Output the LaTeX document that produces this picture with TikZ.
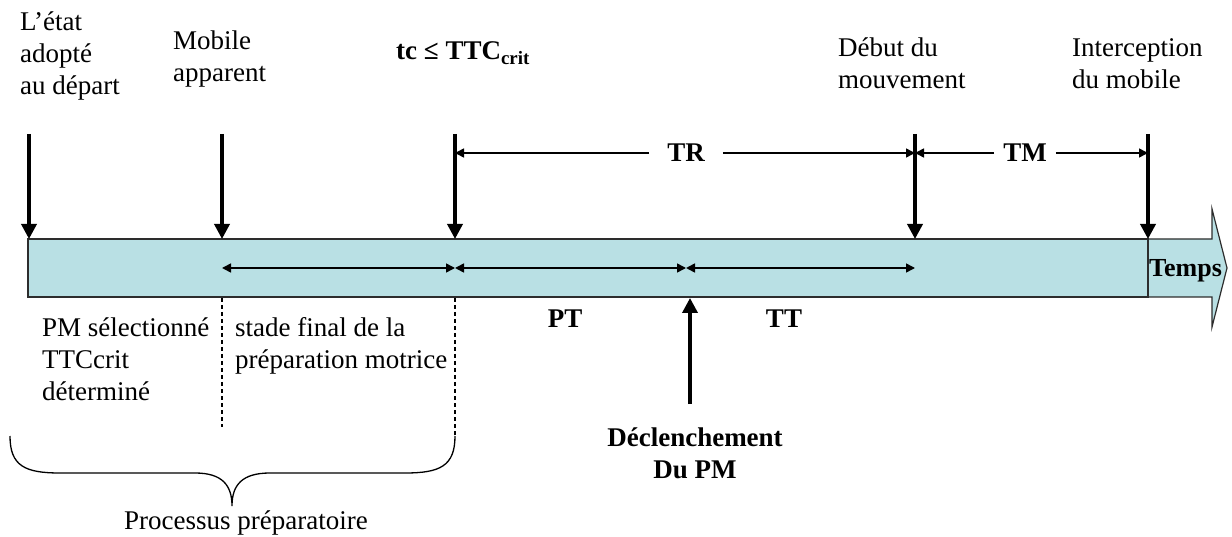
\documentclass[tikz,border=0pt]{standalone}
\usepackage{fontspec}
\setmainfont{Liberation Serif}
\usetikzlibrary{arrows.meta}
\definecolor{barfill}{RGB}{185,224,228}
\definecolor{barline}{RGB}{45,45,45}
\begin{document}
\begin{tikzpicture}[x=1pt,y=-1pt,
  txt/.style={font=\fontsize{27}{32}\selectfont, inner sep=0pt, align=left, anchor=base west},
  lab/.style={font=\fontsize{27}{32}\selectfont\bfseries, inner sep=0pt, align=center, anchor=base},
  bigarr/.style={line width=3.5pt, -{Triangle[width=15pt,length=15pt]}},
  dimarr/.style={line width=1.6pt, {Triangle[width=9pt,length=9pt]}-{Triangle[width=9pt,length=9pt]}},
  onearr/.style={line width=1.6pt, -{Triangle[width=9pt,length=9pt]}},
  dashline/.style={line width=1.1pt, dash pattern=on 4pt off 3pt},
  bracestyle/.style={line width=1.3pt}
]
\useasboundingbox (0,0) rectangle (1232,537);

% block arrow (time axis)
\filldraw[fill=barfill, draw=barline, line width=1.2pt]
  (1148,239) -- (1212,239) -- (1212,209) -- (1227,268) -- (1212,327) -- (1212,297) -- (1148,297) -- cycle;
\node[draw=barline, fill=barfill, line width=1.2pt, minimum width=1120pt, minimum height=58pt, inner sep=0pt] (bar) at (588,268) {};
\node[lab, anchor=base west, font=\fontsize{26}{32}\selectfont\bfseries] (temps) at (1149,277) {Temps};

% top labels (anchor = baseline of last line)
\node[txt] (etat) at (20,95) {L’état\\adopté\\au départ};
\node[txt] (mobile) at (173,82) {Mobile\\apparent};
\node[txt, font=\fontsize{27}{32}\selectfont\bfseries] (tc) at (396,60) {tc ≤ TTC\textsubscript{crit}};
\node[txt] (debut) at (838,89) {Début du\\mouvement};
\node[txt] (inter) at (1072,89) {Interception\\du mobile};

% down arrows
\coordinate (s1) at (29,134);   \coordinate (e1) at (29,239);
\coordinate (s2) at (222,134);  \coordinate (e2) at (222,239);
\coordinate (s3) at (455,134);  \coordinate (e3) at (455,239);
\coordinate (s4) at (915,134);  \coordinate (e4) at (915,239);
\coordinate (s5) at (1148,134); \coordinate (e5) at (1148,239);
\draw[bigarr] (s1) -- (e1);
\draw[bigarr] (s2) -- (e2);
\draw[bigarr] (s3) -- (e3);
\draw[bigarr] (s4) -- (e4);
\draw[bigarr] (s5) -- (e5);

% TR / TM dimension lines
\coordinate (r1) at (455,153); \coordinate (r2) at (915,153); \coordinate (r3) at (1148,153);
\node[lab, anchor=center, inner xsep=18pt, inner ysep=4pt] (TR) at (686,153) {TR};
\node[lab, anchor=center, inner xsep=9pt, inner ysep=4pt] (TM) at (1025,153) {TM};
\draw[onearr] (TR) -- (r1);
\draw[onearr] (TR) -- (r2);
\draw[onearr] (TM) -- (r2);
\draw[onearr] (TM) -- (r3);

% arrows inside the bar
\coordinate (p1) at (222,268); \coordinate (p2) at (455,268);
\coordinate (p3) at (686,268); \coordinate (p4) at (915,268);
\draw[dimarr] (p1) -- (p2);
\draw[dimarr] (p2) -- (p3);
\draw[dimarr] (p3) -- (p4);

\node[lab] (PT) at (565,328) {PT};
\node[lab] (TT) at (784,328) {TT};

% trigger arrow
\node[lab] (decl) at (695,478) {Déclenchement\\Du PM};
\coordinate (u1) at (690,404); \coordinate (u2) at (690,298);
\draw[bigarr] (u1) -- (u2);

% lower texts
\node[txt] (pmsel) at (42,400) {PM sélectionné\\TTCcrit\\déterminé};
\node[txt] (stade) at (235,368) {stade final de la\\préparation motrice};

% dashed separators
\coordinate (d1a) at (222,298); \coordinate (d1b) at (222,427);
\coordinate (d2a) at (455,298); \coordinate (d2b) at (455,437);
\draw[dashline] (d1a) -- (d1b);
\draw[dashline] (d2a) -- (d2b);

% brace
\coordinate (bl) at (10,436); \coordinate (br) at (455,436); \coordinate (bt) at (232,506);
\draw[bracestyle] (bl) .. controls (10,466) and (25,473) .. (60,473) -- (195,473)
  .. controls (222,473) and (232,485) .. (bt)
  .. controls (232,485) and (242,473) .. (270,473) -- (405,473)
  .. controls (440,473) and (455,466) .. (br);
\node[txt, anchor=base] (proc) at (246,529) {Processus préparatoire};
\end{tikzpicture}
\end{document}
